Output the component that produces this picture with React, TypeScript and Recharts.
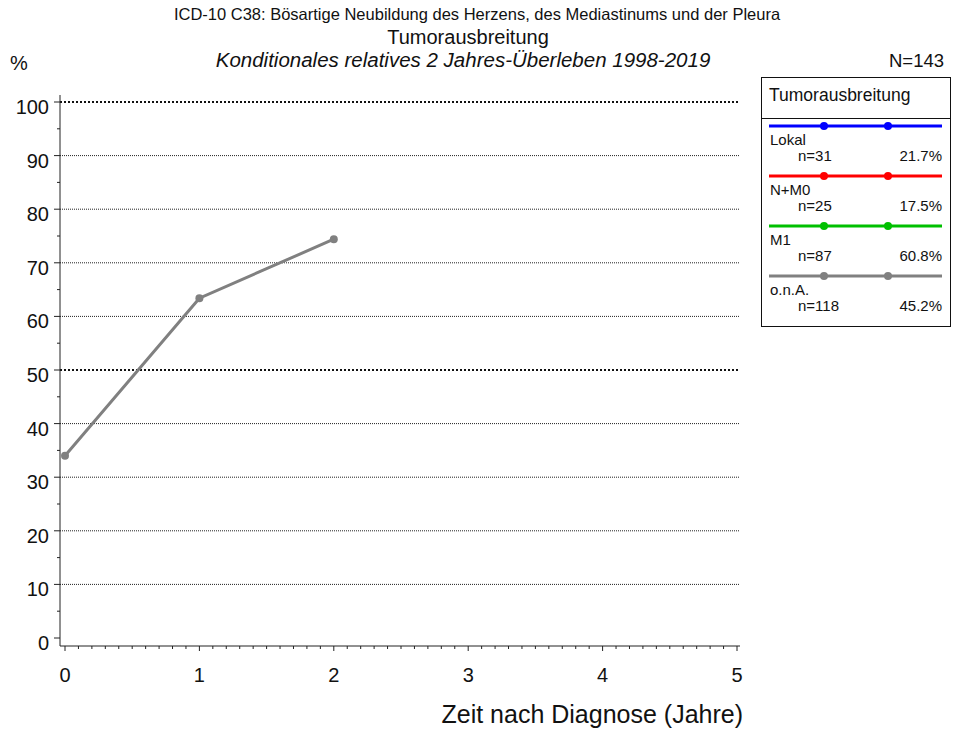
import { LineChart, Line, XAxis, YAxis, ReferenceLine } from "recharts";

// years after diagnosis
const years = [0, 1, 2];

// conditional relative 2-year survival (%) per tumour spread group
const lokal: (number | null)[] = [null, null, null];
const nPlusM0: (number | null)[] = [null, null, null];
const m1: (number | null)[] = [null, null, null];
const ona: (number | null)[] = [34.0, 63.4, 74.4];

const groupKeys = ["lokal", "nPlusM0", "m1", "ona"];
const groupNames = ["Lokal", "N+M0", "M1", "o.n.A."];
const groupColors = ["#0000ff", "#ff0000", "#00c000", "#808080"];
const groupN = [31, 25, 87, 118];
const groupShare = ["21.7%", "17.5%", "60.8%", "45.2%"];

const yTicks = Array.from({ length: 21 }, (_, i) => i * 5);
const xTicks = Array.from({ length: 51 }, (_, i) => i / 10);
const gridValues = [10, 20, 30, 40, 50, 60, 70, 80, 90, 100];
const boldGrid = [50, 100];

const data = years.map((year, i) => ({
  year,
  lokal: lokal[i],
  nPlusM0: nPlusM0[i],
  m1: m1[i],
  ona: ona[i],
}));

const FONT = "'Liberation Sans', Arial, Helvetica, sans-serif";
const AXIS = "#222";

function YTick({ x, y, payload }: any) {
  const v = payload.value;
  const major = v % 10 === 0;
  return (
    <g>
      <line x1={x - (major ? 6 : 3)} x2={x} y1={y} y2={y} stroke={AXIS} />
      {major && (
        <text x={x - 11} y={y + 12} textAnchor="end" fontSize={20} fill="#111" fontFamily={FONT}>
          {v}
        </text>
      )}
    </g>
  );
}

function XTick({ x, y, payload }: any) {
  const v = payload.value;
  const major = Math.abs(v - Math.round(v)) < 1e-6;
  return (
    <g>
      <line x1={x} x2={x} y1={y} y2={y + (major ? 5 : 3)} stroke={AXIS} />
      {major && (
        <text x={x} y={y + 36} textAnchor="middle" fontSize={20} fill="#111" fontFamily={FONT}>
          {Math.round(v)}
        </text>
      )}
    </g>
  );
}

function Overlay() {
  return (
    <svg
      width={953}
      height={731}
      style={{ position: "absolute", left: 0, top: 0, pointerEvents: "none" }}
      fontFamily={FONT}
    >
      <text x={477} y={20} textAnchor="middle" fontSize={16.5} fill="#111">
        ICD-10 C38: Bösartige Neubildung des Herzens, des Mediastinums und der Pleura
      </text>
      <text x={468} y={44} textAnchor="middle" fontSize={20} fill="#111">
        Tumorausbreitung
      </text>
      <text x={463} y={67} textAnchor="middle" fontSize={20.5} fontStyle="italic" fill="#111">
        Konditionales relatives 2 Jahres-Überleben 1998-2019
      </text>
      <text x={10} y={70} fontSize={20} fill="#111">
        %
      </text>
      <text x={944} y={67} textAnchor="end" fontSize={18.5} fill="#111">
        N=143
      </text>
      <text x={743} y={723} textAnchor="end" fontSize={25} fill="#111">
        Zeit nach Diagnose (Jahre)
      </text>

      {/* legend */}
      <rect x={761.5} y={77.5} width={189} height={249} fill="#fff" stroke="#111" />
      <text x={769} y={101} fontSize={17.5} fill="#111">
        Tumorausbreitung
      </text>
      <line x1={761} x2={951} y1={118.5} y2={118.5} stroke="#111" />
      {groupNames.map((name, i) => {
        const ly = 126 + i * 50;
        return (
          <g key={name}>
            <line x1={769} x2={942} y1={ly} y2={ly} stroke={groupColors[i]} strokeWidth={3} />
            <circle cx={824} cy={ly} r={4} fill={groupColors[i]} />
            <circle cx={888} cy={ly} r={4} fill={groupColors[i]} />
            <text x={770} y={ly + 19} fontSize={15} fill="#111">
              {name}
            </text>
            <text x={798} y={ly + 35} fontSize={15} fill="#111">
              n={groupN[i]}
            </text>
            <text x={942} y={ly + 35} textAnchor="end" fontSize={15} fill="#111">
              {groupShare[i]}
            </text>
          </g>
        );
      })}
    </svg>
  );
}

export default function App() {
  return (
    <div style={{ position: "absolute", left: 0, top: 0, width: 953, height: 731, background: "#fff" }}>
      <LineChart width={953} height={731} data={data} margin={{ top: 95, right: 213, bottom: 0, left: 0 }}>
        <XAxis
          dataKey="year"
          type="number"
          domain={[0, 5]}
          ticks={xTicks}
          interval={0}
          padding={{ left: 5, right: 3 }}
          height={85}
          tickSize={0}
          tickMargin={0}
          tickLine={false}
          tick={<XTick />}
          axisLine={{ stroke: AXIS }}
        />
        <YAxis
          type="number"
          domain={[0, 100]}
          ticks={yTicks}
          interval={0}
          padding={{ top: 7, bottom: 8 }}
          width={60}
          tickSize={0}
          tickMargin={0}
          tickLine={false}
          tick={<YTick />}
          axisLine={{ stroke: AXIS }}
        />
        {gridValues.map((v) =>
          boldGrid.includes(v) ? (
            <ReferenceLine key={v} y={v} stroke="#111" strokeWidth={2} strokeDasharray="2 2" />
          ) : (
            <ReferenceLine key={v} y={v} stroke="#222" strokeWidth={1} strokeDasharray="1 1" />
          )
        )}
        {groupKeys.map((key, i) => (
          <Line
            key={key}
            dataKey={key}
            name={groupNames[i]}
            stroke={groupColors[i]}
            strokeWidth={3}
            dot={{ r: 4, fill: groupColors[i], stroke: groupColors[i], strokeWidth: 0 }}
            isAnimationActive={false}
          />
        ))}
      </LineChart>
      <Overlay />
    </div>
  );
}
